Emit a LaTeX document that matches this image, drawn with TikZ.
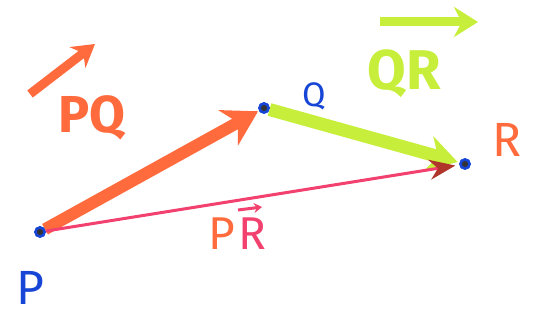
\documentclass[tikz,border=0pt]{standalone}
\usepackage{fontspec}
\setmainfont{Fira Sans}
\usetikzlibrary{arrows.meta}
\definecolor{orng}{HTML}{FF6B3D}
\definecolor{grn}{HTML}{C6EE3A}
\definecolor{pnk}{HTML}{F2416E}
\definecolor{blu}{HTML}{1746D6}
\definecolor{dred}{HTML}{B0352A}
\tikzset{
  pt/.style={circle,draw=blu,fill=black!80,line width=2.5pt,inner sep=0pt,minimum size=9pt},
  lbl/.style={font=\fontsize{#1}{#1}\selectfont,inner sep=0pt},
}
\begin{document}
\begin{tikzpicture}[x=1pt,y=-1pt]
\useasboundingbox (0,0) rectangle (536,323);
\node[pt] (p) at (40,232) {};
\node[pt] (q) at (264,108) {};
\node[pt] (r) at (465,164) {};
% vectors
\draw[grn,line width=13pt,-{Stealth[length=30pt,width=36pt]},shorten >=2pt] (q) -- (r);
\draw[orng,line width=12pt,-{Stealth[length=34pt,width=40pt]},shorten >=1pt] (p) -- (q);
\draw[pnk,line width=3pt,-{Stealth[length=26pt,width=20pt,color=dred]},shorten >=4pt] (p) -- (r);
\node[pt] at (p) {};
\node[pt] at (q) {};
\node[pt] at (r) {};
% labels
\node[lbl=48,text=blu] (lp) at (30,288) {P};
\node[lbl=34,text=blu] (lq) at (314,96) {Q};
\node[lbl=48,text=orng] (lr) at (507,140) {R};
\node[lbl=52,text=orng,font=\fontsize{52}{52}\selectfont\bfseries] (lpq) at (92,118) {PQ};
\node[lbl=56,text=grn,font=\fontsize{56}{56}\selectfont\bfseries] (lqr) at (404,74) {QR};
\node[lbl=46,text=orng] (lpr1) at (222,234) {P};
\node[lbl=46,text=pnk] (lpr2) at (252,234) {R};
% arrows over labels
\draw[orng,line width=9pt,-{Stealth[length=22pt,width=26pt]}] (30,94) -- (95,44);
\draw[grn,line width=9pt,-{Stealth[length=24pt,width=30pt]}] (380,22) -- (478,22);
\draw[pnk,line width=3pt,-{Stealth[length=8pt,width=10pt]}] (238,210) -- (262,207);
\end{tikzpicture}
\end{document}
